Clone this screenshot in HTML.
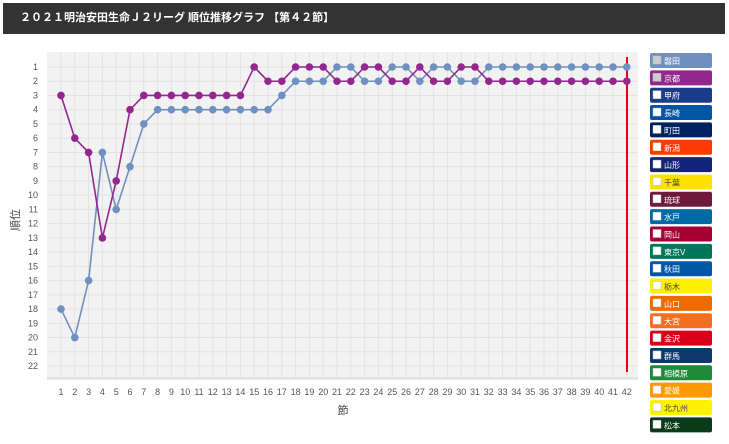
<!DOCTYPE html>
<html><head><meta charset="utf-8"><style>
body{margin:0;background:#fff;width:729px;height:444px;overflow:hidden;font-family:"Liberation Sans","Noto Sans CJK JP",sans-serif}
.hd{position:absolute;left:3px;top:3px;width:722px;height:31px;background:#333;color:#fff;font-weight:bold;font-size:11px;line-height:31px;padding-left:17px;box-sizing:border-box;letter-spacing:0}
</style></head><body>
<div class="hd">２０２１明治安田生命Ｊ２リーグ 順位推移グラフ 【第４２節】</div>
<svg width="729" height="444" style="position:absolute;left:0;top:0" font-family="Liberation Sans, Noto Sans CJK JP, sans-serif">
<rect x="47" y="52" width="591" height="326" fill="#f2f2f2"/>
<g id="grid" stroke="#e2e2e2" stroke-width="1"></g>
<line x1="47" y1="378.5" x2="638" y2="378.5" stroke="#ddd" stroke-width="2"/>
<g id="lbl" font-size="9" fill="#555"></g>
<text x="343" y="414" font-size="11" fill="#444" text-anchor="middle">節</text>
<text transform="translate(19,220) rotate(-90)" font-size="11" fill="#444" text-anchor="middle">順位</text>
<line x1="627" y1="57" x2="627" y2="372" stroke="#e60012" stroke-width="2"/>
<g id="ser"></g>
<g id="leg" font-size="8"></g>
</svg>
<script>
var X=r=>61+(r-1)*13.8, Y=k=>67+(k-1)*14.24;
var g='',l='';
for(var r=1;r<=42;r++){g+=`<line x1="${X(r)}" y1="52" x2="${X(r)}" y2="378"/>`;l+=`<text x="${X(r)}" y="395" text-anchor="middle">${r}</text>`;}
for(var k=1;k<=22;k++){g+=`<line x1="47" y1="${Y(k)}" x2="638" y2="${Y(k)}"/>`;l+=`<text x="38" y="${Y(k)+3}" text-anchor="end">${k}</text>`;}
document.getElementById('grid').innerHTML=g;document.getElementById('lbl').innerHTML=l;
var iw=[18,20,16,7,11,8,5,4,4,4,4,4,4,4,4,4,3,2,2,2,1,1,2,2,1,1,2,1,1,2,2,1,1,1,1,1,1,1,1,1,1,1];
var ky=[3,6,7,13,9,4,3,3,3,3,3,3,3,3,1,2,2,1,1,1,2,2,1,1,2,2,1,2,2,1,1,2,2,2,2,2,2,2,2,2,2,2];
function s(d,c){var p=d.map((k,i)=>X(i+1)+','+Y(k)).join(' ');var o=`<polyline points="${p}" fill="none" stroke="${c}" stroke-width="1.6"/>`;d.forEach((k,i)=>o+=`<circle cx="${X(i+1)}" cy="${Y(k)}" r="3.8" fill="${c}"/>`);return o;}
document.getElementById('ser').innerHTML=s(iw,'#7090c0')+s(ky,'#93278f');
var L=[['磐田','#7090c0',1],['京都','#93278f',1],['甲府','#1a3a8a'],['長崎','#0055a5'],['町田','#002060'],['新潟','#ff3a00'],['山形','#14237b'],['千葉','#ffe100',0,1],['琉球','#6e1a3a'],['水戸','#006aa6'],['岡山','#a50034'],['東京V','#00775a'],['秋田','#0057a8'],['栃木','#fff000',0,1],['山口','#ee6b00'],['大宮','#f07020'],['金沢','#d9001a'],['群馬','#0c3a6e'],['相模原','#1e8a3c'],['愛媛','#ff9900'],['北九州','#fff200',0,1],['松本','#0a3a1a']];
var h='';L.forEach((t,i)=>{var y=53+i*17.35;h+=`<rect x="650" y="${y}" width="62" height="15" rx="2" fill="${t[1]}"/><rect x="653" y="${y+3}" width="8" height="8" fill="${t[2]?'#ccc':'#fff'}" stroke="#bbb" stroke-width="0.5"/><text x="664" y="${y+11}" fill="${t[3]?'#444':'#fff'}">${t[0]}</text>`;});
document.getElementById('leg').innerHTML=h;
</script>
</body></html>
